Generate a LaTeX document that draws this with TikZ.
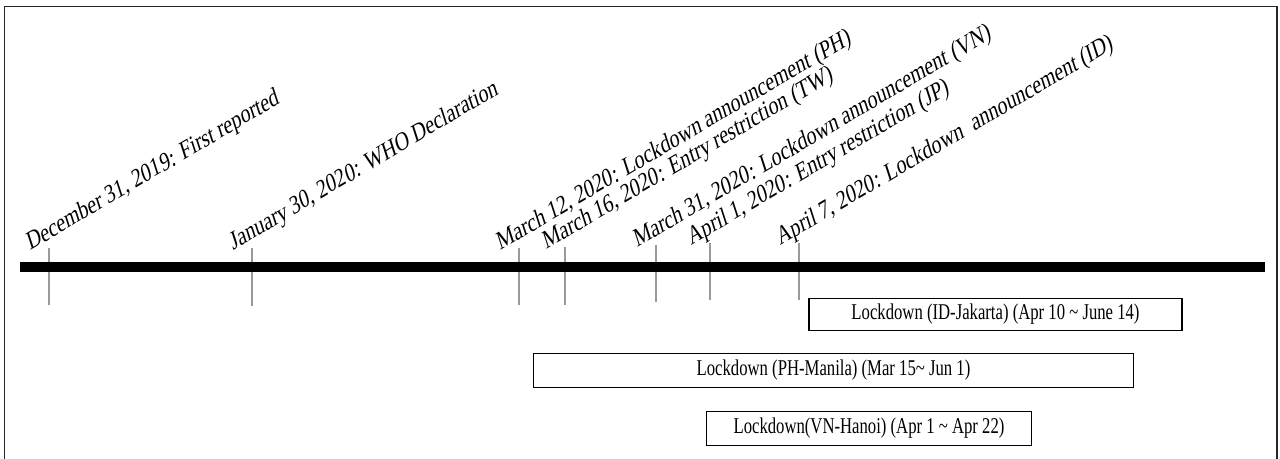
\documentclass[tikz,border=0pt]{standalone}
\usepackage{graphicx}
\usepackage{fontspec}
\setmainfont{Liberation Serif}
\newcommand{\tallstretch}[1]{\scalebox{1}[1.35]{#1}}
\tikzset{eventline/.style={draw=gray!80, line width=0.6pt},
 datelabel/.style={yscale=1.35, rotate=23.6, anchor=base west, inner sep=0pt,
   font=\fontsize{11.2}{13}\selectfont},
 periodbox/.style={draw=black, line width=0.8pt, inner sep=0pt,
   font=\fontsize{9.5}{11}\selectfont},
 timeaxis/.style={line width=5.7pt},
 frameline/.style={draw=black!85, line width=1pt},
 }

\begin{document}
\begin{tikzpicture}[x=0.02cm, y=-0.02cm]
        \useasboundingbox (0,0) rectangle (1280,459);
        \draw[frameline] (4.5,459) -- (4.5,6.5) -- (1277,6.5) -- (1277,459);
        % events
        \foreach \x/\top/\bot/\name/\txt in {
            49/248/305/dec31/{December 31, 2019: First reported},
            252/248/306/jan30/{January 30, 2020: WHO Declaration},
            519/248/305/mar12/{March 12, 2020: Lockdown announcement (PH)},
            565/247/305/mar16/{March 16, 2020: Entry restriction (TW)},
            656/245/302/mar31/{March 31, 2020: Lockdown announcement (VN)},
            710/243/300/apr1/{April 1, 2020: Entry restriction (JP)},
            799/243/300/apr7/{April 7, 2020: Lockdown\ \ announcement (ID)}}
        {
            \coordinate (\name-top) at (\x,\top);
            \coordinate (\name-bot) at (\x,\bot);
            \draw[eventline] (\name-top) -- (\name-bot);
            \node[datelabel] (\name) at (\x-19,\top+3) {\txt};
        }
        \coordinate (axisstart) at (20,267);
        \coordinate (axisend) at (1265,267);
        \draw[timeaxis] (axisstart) -- (axisend);
        % lockdown periods
        \node[periodbox, minimum width=7.46cm, minimum height=0.65cm] (jakarta)
            at (995.5,314.5) {\tallstretch{Lockdown (ID-Jakarta) (Apr 10 \textasciitilde{} June 14)}};
        \node[periodbox, minimum width=12cm, minimum height=0.69cm] (manila)
            at (833.5,370.5) {\tallstretch{Lockdown (PH-Manila) (Mar 15\textasciitilde{} Jun 1)}};
        \node[periodbox, minimum width=6.5cm, minimum height=0.69cm] (hanoi)
            at (869,428.5) {\tallstretch{Lockdown(VN-Hanoi) (Apr 1 \textasciitilde{} Apr 22)}};
    \end{tikzpicture}
\end{document}
